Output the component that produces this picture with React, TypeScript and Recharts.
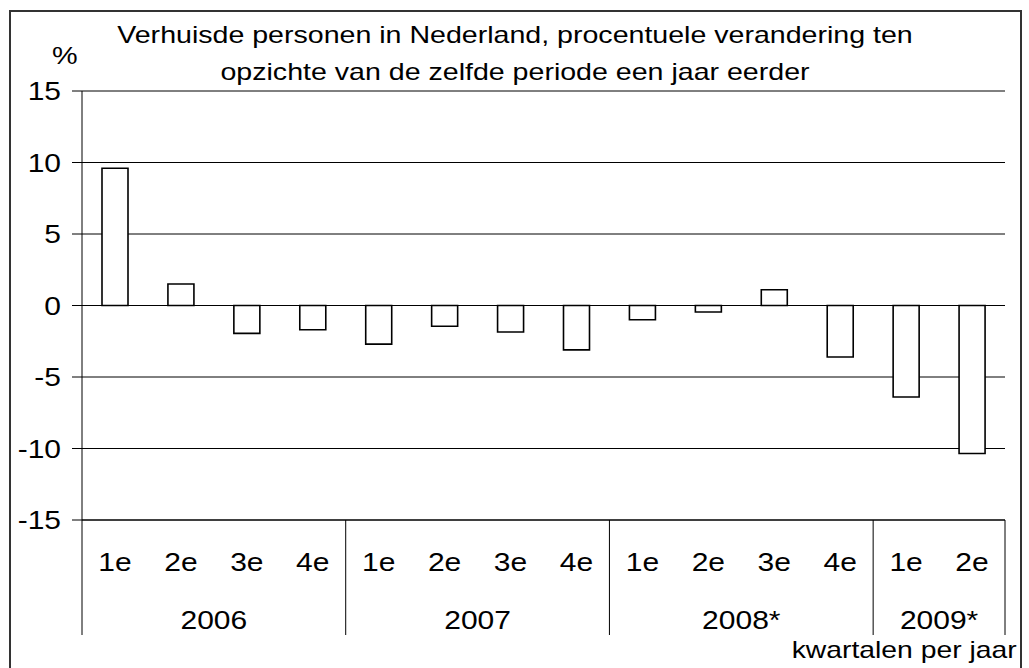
import { BarChart, Bar, XAxis, YAxis, CartesianGrid } from "recharts";

const quarters = ["1e", "2e", "3e", "4e", "1e", "2e", "3e", "4e", "1e", "2e", "3e", "4e", "1e", "2e"];
const years = ["2006", "2006", "2006", "2006", "2007", "2007", "2007", "2007", "2008*", "2008*", "2008*", "2008*", "2009*", "2009*"];
const changes = [9.6, 1.5, -1.95, -1.7, -2.7, -1.45, -1.85, -3.1, -1.0, -0.45, 1.1, -3.6, -6.4, -10.35];
const yTicks = [-15, -10, -5, 0, 5, 10, 15];

const data = quarters.map((q, i) => ({ quarter: q, year: years[i], value: changes[i] }));

const W = 1029;
const H = 668;
const MARGIN = { top: 91, right: 24, bottom: 0, left: 10 };
const Y_AXIS_W = 72;
const PLOT_W = W - MARGIN.left - MARGIN.right - Y_AXIS_W;
const BAND = PLOT_W / data.length;
const FONT = "'Liberation Sans', Arial, sans-serif";
const STRETCH = 1.2; // the original text is drawn a little wide

function WideText({ x, y, anchor, children, dy }: any) {
  return (
    <text
      transform={`translate(${x},${y}) scale(${STRETCH},1)`}
      textAnchor={anchor}
      dy={dy}
      fontSize={25}
      fill="#000"
      fontFamily={FONT}
    >
      {children}
    </text>
  );
}

function YTick(props: any) {
  const { x, y, payload } = props;
  return (
    <WideText x={x} y={y} anchor="end" dy="0.36em">
      {payload.value}
    </WideText>
  );
}

// quarter label + year group label + group separators
function QuarterTick(props: any) {
  const { x, y, payload } = props;
  const i = payload.index;
  const row = data[i];
  const first = i === 0 || data[i - 1].year !== row.year;
  const last = i === data.length - 1;
  let groupSize = 0;
  if (first) {
    for (let k = i; k < data.length && data[k].year === row.year; k++) groupSize++;
  }
  return (
    <g>
      <WideText x={x} y={y + 51} anchor="middle">
        {row.quarter}
      </WideText>
      {first && (
        <>
          <line x1={x - BAND / 2} x2={x - BAND / 2} y1={y} y2={y + 115} stroke="#000" strokeWidth={1} />
          <WideText x={x + ((groupSize - 1) / 2) * BAND} y={y + 109} anchor="middle">
            {row.year}
          </WideText>
        </>
      )}
      {last && (
        <line x1={x + BAND / 2} x2={x + BAND / 2} y1={y} y2={y + 115} stroke="#000" strokeWidth={1} />
      )}
    </g>
  );
}

export default function App() {
  return (
    <div style={{ position: "relative", width: W, height: H, overflow: "hidden", background: "#fff", fontFamily: FONT }}>
      <style>{`body{margin:0}`}</style>

      {/* outer frame */}
      <div
        style={{
          position: "absolute",
          left: 9,
          top: 10,
          width: 1013,
          height: 720,
          border: "2px solid #333",
          boxSizing: "border-box",
        }}
      />

      {/* title */}
      <div
        style={{
          position: "absolute",
          left: 15,
          width: 1000,
          top: 16,
          textAlign: "center",
          fontSize: 24,
          lineHeight: "37px",
          color: "#000",
          transform: "scaleX(1.19)",
          transformOrigin: "500px 0",
        }}
      >
        Verhuisde personen in Nederland, procentuele verandering ten
        <br />
        opzichte van de zelfde periode een jaar eerder
      </div>

      <div
        style={{
          position: "absolute",
          left: 52,
          top: 42,
          fontSize: 24,
          lineHeight: "28px",
          color: "#000",
          transform: "scaleX(1.2)",
          transformOrigin: "0 0",
        }}
      >
        %
      </div>

      <div
        style={{
          position: "absolute",
          right: W - 1017,
          top: 636,
          fontSize: 24,
          lineHeight: "28px",
          color: "#000",
          transform: "scaleX(1.18)",
          transformOrigin: "100% 0",
          whiteSpace: "nowrap",
        }}
      >
        kwartalen per jaar
      </div>

      <div style={{ position: "absolute", left: 0, top: 0 }}>
        <BarChart width={W} height={H} data={data} margin={MARGIN} barSize={26}>
          <CartesianGrid vertical={false} stroke="#000" strokeOpacity={1} />
          <XAxis
            dataKey="quarter"
            height={H - MARGIN.top - 429}
            interval={0}
            tickLine={false}
            tickSize={0}
            tickMargin={0}
            axisLine={{ stroke: "#000" }}
            tick={<QuarterTick />}
          />
          <YAxis
            width={Y_AXIS_W}
            domain={[-15, 15]}
            ticks={yTicks}
            interval={0}
            tickSize={10}
            tickMargin={11}
            tickLine={{ stroke: "#000" }}
            axisLine={{ stroke: "#000" }}
            tick={<YTick />}
          />
          <YAxis
            yAxisId="right"
            orientation="right"
            width={0}
            domain={[-15, 15]}
            tick={false}
            tickLine={false}
            axisLine={{ stroke: "#000" }}
          />
          <Bar dataKey="value" fill="#fff" stroke="#000" strokeWidth={1.6} isAnimationActive={false} />
        </BarChart>
      </div>
    </div>
  );
}
